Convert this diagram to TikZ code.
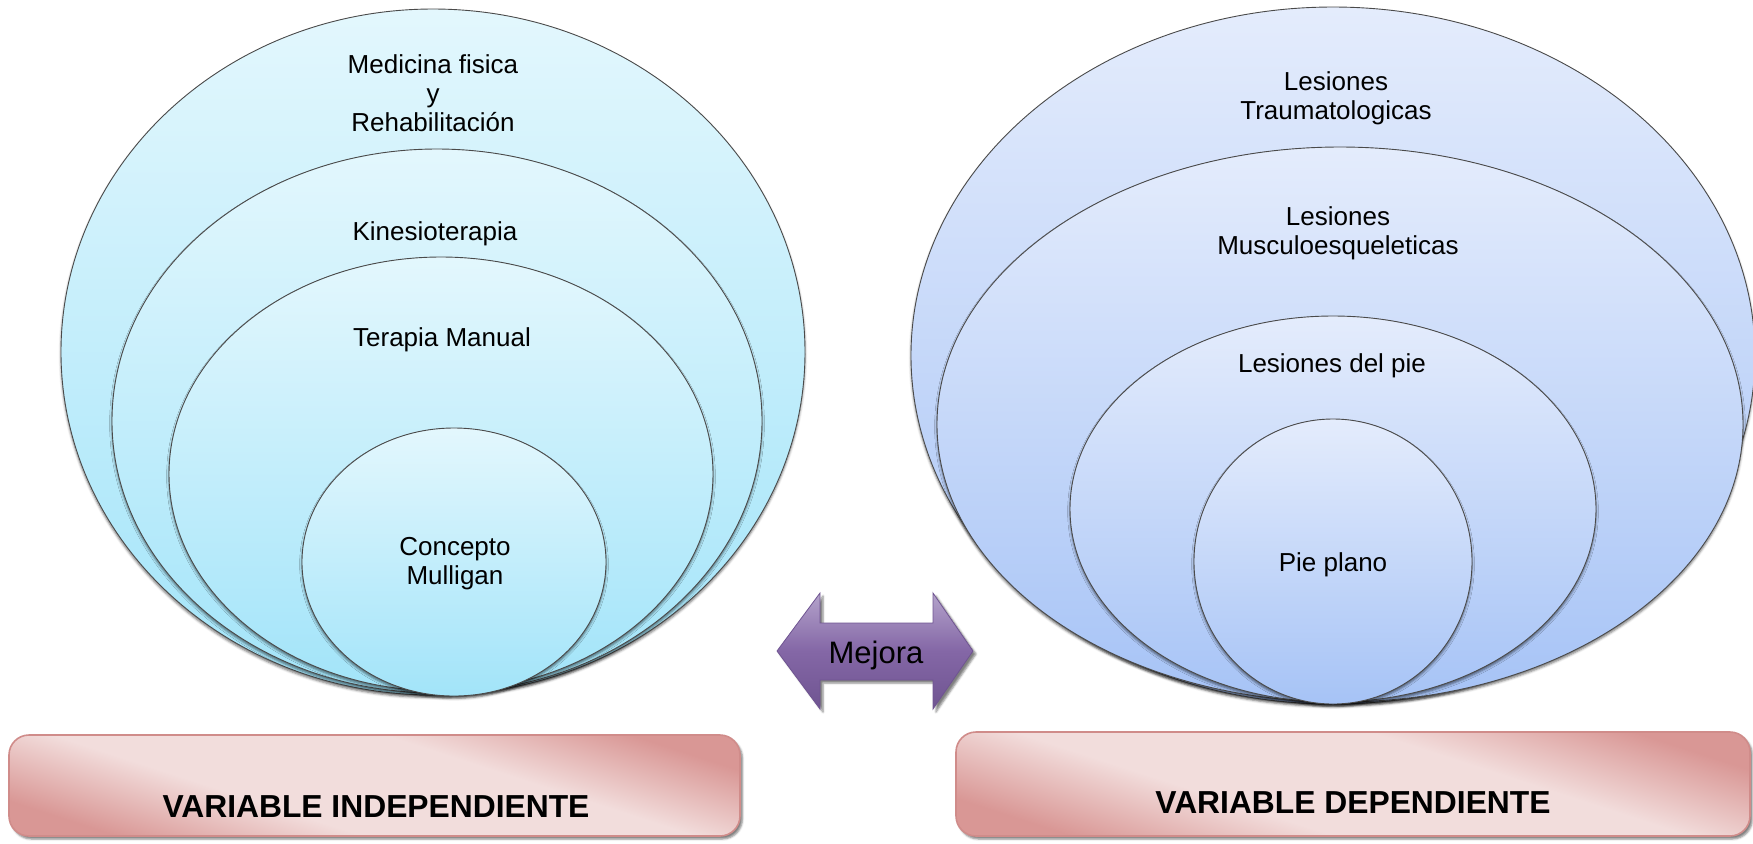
\documentclass[tikz,border=0pt]{standalone}
\usepackage{fontspec}
\setmainfont{Liberation Sans}
\usetikzlibrary{shapes.geometric,shadows.blur}
\definecolor{lcTop}{HTML}{E3F7FD}
\definecolor{lcBot}{HTML}{A2E4F9}
\definecolor{rcTop}{HTML}{E4ECFC}
\definecolor{rcBot}{HTML}{A6C3F6}
\definecolor{edgegray}{HTML}{4A4A4A}
\definecolor{pkDark}{HTML}{D99795}
\definecolor{pkLight}{HTML}{F2DDDC}
\definecolor{pkEdge}{HTML}{D08C8A}
\definecolor{puTop}{HTML}{B4A3CB}
\definecolor{puMid}{HTML}{8467A6}
\definecolor{puBot}{HTML}{6F5491}
\pgfdeclareverticalshading{pinkband}{100bp}{color(0bp)=(pkDark); color(25bp)=(pkDark); color(40bp)=(pkLight); color(60bp)=(pkLight); color(75bp)=(pkDark); color(100bp)=(pkDark)}
\tikzset{
  ring/.style={ellipse, draw=edgegray, line width=0.45pt, inner sep=0pt,
    blur shadow={shadow xshift=0pt, shadow yshift=-1.2pt, shadow blur radius=1.2pt, shadow opacity=55}},
  lring/.style={ring, top color=lcTop, bottom color=lcBot},
  rring/.style={ring, top color=rcTop, bottom color=rcBot},
  txt/.style={align=center, inner sep=0pt, font=\fontsize{13}{14.4}\selectfont},
  varbox/.style={rectangle, rounded corners=10pt, draw=pkEdge, line width=0.8pt,
    shade, shading=pinkband, shading angle=-18,
    blur shadow={shadow xshift=1.2pt, shadow yshift=-1.5pt, shadow blur radius=1pt, shadow opacity=50}},
  vartxt/.style={inner sep=0pt, font=\fontsize{15.9}{18}\selectfont\bfseries},
  arrowfill/.style={draw=puBot, line width=0.4pt, top color=puTop, bottom color=puBot, middle color=puMid,
    blur shadow={shadow xshift=1.5pt, shadow yshift=-1.5pt, shadow blur radius=1pt, shadow opacity=50}},
}
\begin{document}
\begin{tikzpicture}[x=0.5pt,y=-0.5pt]
\useasboundingbox (0,0) rectangle (1753,843);
% left set
\node[lring, minimum width=372pt, minimum height=343pt] (L1) at (433,352) {};
\node[lring, minimum width=325pt, minimum height=272pt] (L2) at (437,421) {};
\node[lring, minimum width=272pt, minimum height=217pt] (L3) at (441,474) {};
\node[lring, minimum width=152pt, minimum height=134pt] (L4) at (454,562) {};
% right set
\node[rring, minimum width=422pt, minimum height=348.5pt] (R1) at (1333,355.5) {};
\node[rring, minimum width=403pt, minimum height=277.5pt] (R2) at (1340,424.5) {};
\node[rring, minimum width=263pt, minimum height=193pt] (R3) at (1333,509) {};
\node[rring, minimum width=139pt, minimum height=142.5pt] (R4) at (1333,561.5) {};
% labels
\node[txt] (tL1) at (433,93) {Medicina fisica\\y\\Rehabilitación};
\node[txt] (tL2) at (435,234) {Kinesioterapia};
\node[txt] (tL3) at (442,340) {Terapia Manual};
\node[txt] (tL4) at (455,564) {Concepto\\Mulligan};
\node[txt] (tR1) at (1336,98) {Lesiones\\Traumatologicas};
\node[txt] (tR2) at (1338,233) {Lesiones\\Musculoesqueleticas};
\node[txt] (tR3) at (1332,366) {Lesiones del pie};
\node[txt] (tR4) at (1333,565) {Pie plano};
% double arrow
\path[arrowfill] (777,651) -- (820,593) -- (820,623) -- (933,623) -- (933,593) -- (973,651)
  -- (933,709) -- (933,680) -- (820,680) -- (820,709) -- cycle;
\node[inner sep=0pt, font=\fontsize{15.5}{18}\selectfont] (mej) at (876,655) {Mejora};
% bottom boxes
\node[varbox, minimum width=365.5pt, minimum height=50.5pt] (bL) at (374.5,785.5) {};
\node[varbox, minimum width=397pt, minimum height=52pt] (bR) at (1353,784) {};
\node[vartxt] (vL) at (376,807) {VARIABLE INDEPENDIENTE};
\node[vartxt] (vR) at (1353,803) {VARIABLE DEPENDIENTE};
\end{tikzpicture}
\end{document}
